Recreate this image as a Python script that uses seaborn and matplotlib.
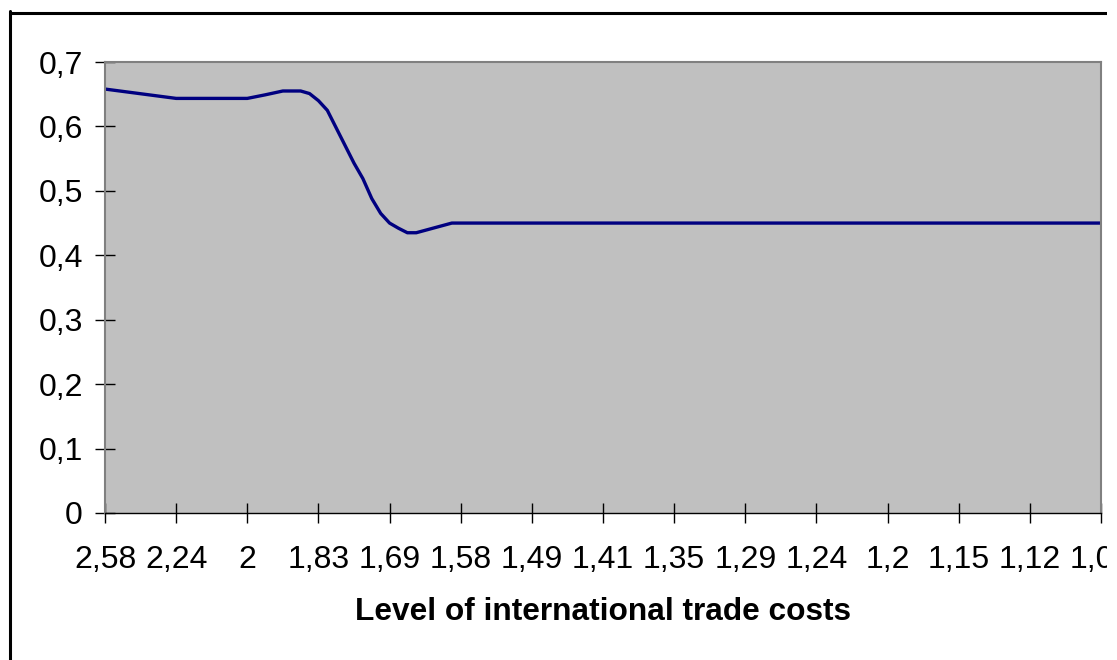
import matplotlib
matplotlib.use("Agg")
import matplotlib.pyplot as plt
import matplotlib.lines as mlines
import matplotlib.patches as mpatches
import seaborn as sns

# category index of each vertex (labels every 8 categories) and the plotted share
cat_idx = [0, 8, 16, 18, 20, 22, 23, 24, 25, 28, 29, 30, 31, 32, 33, 34, 35, 39, 112]
share = [0.658, 0.6435, 0.6435, 0.649, 0.655, 0.655, 0.651, 0.640, 0.625, 0.543,
         0.519, 0.488, 0.465, 0.450, 0.442, 0.435, 0.435, 0.450, 0.450]

tick_idx = [0, 8, 16, 24, 32, 40, 48, 56, 64, 72, 80, 88, 96, 104, 112]
tick_labels = ["2,58", "2,24", "2", "1,83", "1,69", "1,58", "1,49", "1,41",
               "1,35", "1,29", "1,24", "1,2", "1,15", "1,12", "1,09"]
y_ticks = [0, 0.1, 0.2, 0.3, 0.4, 0.5, 0.6, 0.7]
y_labels = ["0", "0,1", "0,2", "0,3", "0,4", "0,5", "0,6", "0,7"]

sns.set_style("white")
plt.rcParams['font.family'] = ['Liberation Sans', 'DejaVu Sans']
plt.rcParams['text.color'] = 'black'

W, H = 1117, 660
fig = plt.figure(figsize=(W / 100, H / 100), dpi=100)
ax = fig.add_axes([105 / W, (H - 513) / H, (1101 - 105) / W, (513 - 62) / H])
ax.set_facecolor("#C0C0C0")

sns.lineplot(x=cat_idx, y=share, ax=ax, color="#000080", linewidth=2.4)

ax.set_xlim(0, 112)
ax.set_ylim(0, 0.7)
ax.set_xticks(tick_idx)
ax.set_xticklabels(tick_labels)
ax.set_yticks(y_ticks)
ax.set_yticklabels(y_labels)

ax.tick_params(axis="both", direction="inout", length=14, width=1, color="black",
               labelsize=23, labelcolor="black", bottom=True, left=True)
ax.tick_params(axis="y", pad=9)
ax.tick_params(axis="x", pad=16)

for side in ["top", "right", "left"]:
    ax.spines[side].set_color("#808080")
    ax.spines[side].set_linewidth(1.5)
ax.spines["bottom"].set_color("black")
ax.spines["bottom"].set_linewidth(1.0)
ax.spines["bottom"].set_zorder(5)

ax.set_xlabel("Level of international trade costs", fontsize=22.8,
              fontweight="bold", va="center", color="black")
ax.xaxis.set_label_coords(0.5, -0.2195)
ax.set_ylabel("")

# outer chart frame
fig.add_artist(mlines.Line2D([10 / W, 1107 / W], [1 - 12.5 / H, 1 - 12.5 / H],
                             transform=fig.transFigure, color="black", linewidth=2.2))
fig.add_artist(mlines.Line2D([10 / W, 10 / W], [1 - 11 / H, -0.01],
                             transform=fig.transFigure, color="black", linewidth=2.2))
# chart is cut off at the right, as in the original
fig.add_artist(mpatches.Rectangle((1107 / W, 0), 1, 1, transform=fig.transFigure,
                                  facecolor="white", edgecolor="none", zorder=10))

fig.savefig("out.png", dpi=100)
